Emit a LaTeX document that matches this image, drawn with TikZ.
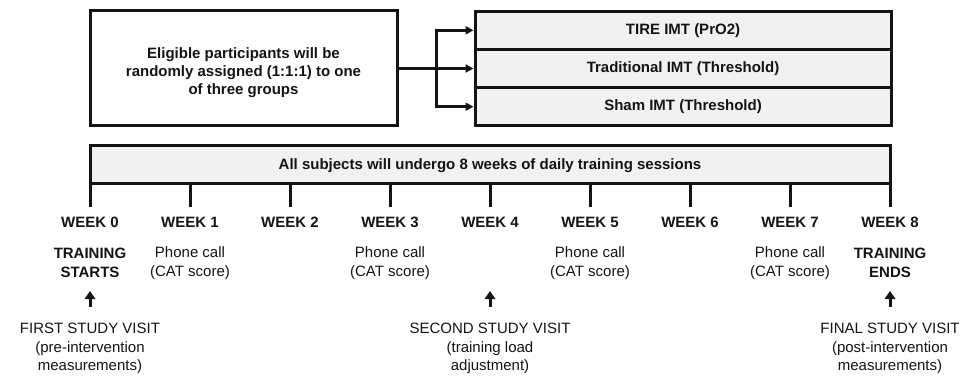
\documentclass[tikz,border=0pt]{standalone}
\usepackage{fontspec}
\setmainfont{Liberation Sans}
\usepackage{xcolor}
\usetikzlibrary{arrows.meta,positioning}
\definecolor{ink}{HTML}{141414}
\definecolor{boxfill}{HTML}{F1F1F1}
\tikzset{
  >={Triangle[length=8pt,width=8pt]},
  frame/.style={draw=ink,line width=3pt,text=ink,align=center,inner sep=0pt,
                font=\fontsize{15}{18.4}\selectfont\bfseries},
  group/.style={frame,fill=boxfill,minimum width=416pt,minimum height=38.2pt},
  branch/.style={draw=ink,line width=3pt},
  tick/.style={draw=ink,line width=3pt},
  week/.style={font=\fontsize{15}{18}\selectfont\bfseries,text=ink,
               text height=11pt,text depth=0pt,inner ysep=9.5pt,inner xsep=0pt},
  note/.style={font=\fontsize{15}{19}\selectfont,text=ink,align=center,inner sep=0pt},
  milestone/.style={note,font=\fontsize{15}{19}\selectfont\bfseries},
  visit/.style={note,font=\fontsize{15}{18.5}\selectfont},
  visitarrow/.style={draw=ink,line width=3pt,-{Triangle[length=8pt,width=10.5pt]},
                     shorten <=16pt},
}
\begin{document}
\begin{tikzpicture}[x=1pt,y=-1pt,node distance=100pt,on grid]
  \useasboundingbox (0,0) rectangle (963,377);
  % randomisation
  \node[frame,minimum width=307pt,minimum height=115pt] (assign) at (243.5,68.5)
      {\rule{0pt}{19pt}Eligible participants will be\\randomly assigned (1:1:1) to one\\of three groups};
  \node[group] (g1) at (683,30.3) {TIRE IMT (PrO2)};
  \node[group,below=38.2pt of g1] (g2) {Traditional IMT (Threshold)};
  \node[group,below=38.2pt of g2] (g3) {Sham IMT (Threshold)};
  \coordinate[xshift=38pt] (split) at (assign.east);
  \draw[branch] (assign.east) -- (split);
  \draw[branch,->] (split) |- (g1.west);
  \draw[branch,->] (split) -- (g2.west);
  \draw[branch,->] (split) |- (g3.west);
  % timeline
  \node[frame,fill=boxfill,minimum width=800pt,minimum height=38pt,text depth=0pt] (bar) at (490,164)
      {All subjects will undergo 8 weeks of daily training sessions};
  \node[week] (w0) at (90,222) {WEEK 0};
  \node[week,right=of w0] (w1) {WEEK 1};
  \node[week,right=of w1] (w2) {WEEK 2};
  \node[week,right=of w2] (w3) {WEEK 3};
  \node[week,right=of w3] (w4) {WEEK 4};
  \node[week,right=of w4] (w5) {WEEK 5};
  \node[week,right=of w5] (w6) {WEEK 6};
  \node[week,right=of w6] (w7) {WEEK 7};
  \node[week,right=of w7] (w8) {WEEK 8};
  \draw[tick] (bar.south -| w0.north) -- (w0.north) (bar.south -| w1.north) -- (w1.north)
      (bar.south -| w2.north) -- (w2.north) (bar.south -| w3.north) -- (w3.north)
      (bar.south -| w4.north) -- (w4.north) (bar.south -| w5.north) -- (w5.north)
      (bar.south -| w6.north) -- (w6.north) (bar.south -| w7.north) -- (w7.north)
      (bar.south -| w8.north) -- (w8.north);
  % events
  \node[milestone,below=41pt of w0] (start) {TRAINING\\STARTS};
  \node[note,below=41pt of w1] (call1) {Phone call\\(CAT score)};
  \node[note,below=41pt of w3] (call3) {Phone call\\(CAT score)};
  \node[note,below=41pt of w5] (call5) {Phone call\\(CAT score)};
  \node[note,below=41pt of w7] (call7) {Phone call\\(CAT score)};
  \node[milestone,below=41pt of w8] (end) {TRAINING\\ENDS};
  % study visits
  \node[visit,below=126.5pt of w0] (v1) {FIRST STUDY VISIT\\(pre-intervention\\measurements)};
  \node[visit,below=126.5pt of w4] (v2) {SECOND STUDY VISIT\\(training load\\adjustment)};
  \node[visit,below=126.5pt of w8] (v3) {FINAL STUDY VISIT\\(post-intervention\\measurements)};
  \coordinate (a1) at (90,291);
  \coordinate (a2) at (490,291);
  \coordinate (a3) at (890,291);
  \draw[visitarrow] (v1.north) -- (a1);
  \draw[visitarrow] (v2.north) -- (a2);
  \draw[visitarrow] (v3.north) -- (a3);
\end{tikzpicture}
\end{document}
